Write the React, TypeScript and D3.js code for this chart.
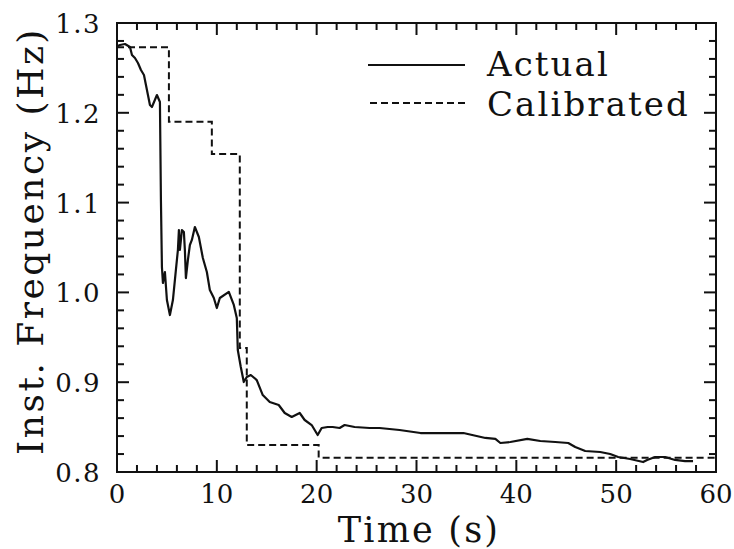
import React from "react";
import * as d3 from "d3";

const actualTime = [0, 0.3, 0.8, 1.3, 1.5, 1.8, 2.1, 2.4, 2.7, 2.9, 3.1, 3.3, 3.5, 4.0, 4.3, 4.4, 4.5, 4.6, 4.8, 5.0, 5.3, 5.6, 5.9, 6.1, 6.2, 6.3, 6.4, 6.5, 6.7, 6.8, 6.9, 7.1, 7.3, 7.5, 7.8, 8.2, 8.6, 9.0, 9.3, 9.7, 10.0, 10.3, 11.2, 11.7, 12.0, 12.1, 12.4, 12.7, 13.0, 13.4, 14.0, 14.6, 15.3, 16.2, 16.8, 17.5, 18.3, 18.8, 19.5, 20.1, 20.5, 21.1, 21.6, 22.3, 22.8, 23.8, 25.3, 26.3, 28.3, 30.4, 33.4, 34.7, 36.9, 37.9, 38.4, 39.4, 41.1, 42.4, 43.9, 45.2, 45.9, 46.9, 48.4, 49.4, 50.2, 51.4, 52.7, 53.1, 53.9, 54.9, 55.9, 56.9, 57.7];
const actualFreq = [1.274, 1.2755, 1.2766, 1.2733, 1.2644, 1.261, 1.2555, 1.2477, 1.2421, 1.231, 1.2198, 1.2087, 1.2065, 1.2198, 1.212, 1.103, 1.0283, 1.0105, 1.0227, 0.9915, 0.9748, 0.9915, 1.025, 1.0472, 1.0695, 1.0472, 1.0583, 1.0695, 1.0673, 1.047, 1.016, 1.036, 1.0528, 1.0584, 1.0728, 1.0617, 1.0383, 1.0227, 1.0027, 0.9938, 0.9826, 0.9938, 1.0005, 0.986, 0.9715, 0.9359, 0.9169, 0.9002, 0.9058, 0.908, 0.9024, 0.8857, 0.878, 0.8746, 0.8657, 0.8613, 0.8657, 0.8579, 0.8523, 0.8412, 0.849, 0.8501, 0.8501, 0.849, 0.8523, 0.8501, 0.849, 0.849, 0.8468, 0.8434, 0.8434, 0.8434, 0.8379, 0.8368, 0.8323, 0.8334, 0.8368, 0.8345, 0.8334, 0.8323, 0.8278, 0.8234, 0.8223, 0.82, 0.8167, 0.8145, 0.8111, 0.8134, 0.8167, 0.8167, 0.8134, 0.8122, 0.8122];

const calTime = [0, 5.2, 5.2, 9.5, 9.5, 12.3, 12.3, 13.0, 13.0, 20.2, 20.2, 60];
const calFreq = [1.273, 1.273, 1.19, 1.19, 1.154, 1.154, 0.938, 0.938, 0.83, 0.83, 0.816, 0.816];

const xTickLabels = [0, 10, 20, 30, 40, 50, 60];
const yTickLabels = [0.8, 0.9, 1.0, 1.1, 1.2, 1.3];
const xMinor = d3.range(0, 60.001, 2);
const yMinor = d3.range(0.8, 1.3001, 0.02);

const seriesNames = ["Actual", "Calibrated"];

export default function App() {
  const W = 734, H = 549;
  const x = d3.scaleLinear().domain([0, 60]).range([117, 716]);
  const y = d3.scaleLinear().domain([0.8, 1.3]).range([472, 23]);
  const line = d3.line<[number, number]>().x(d => x(d[0])).y(d => y(d[1]));
  const actual = actualTime.map((t, i) => [t, actualFreq[i]] as [number, number]);
  const cal = calTime.map((t, i) => [t, calFreq[i]] as [number, number]);
  const font = "'DejaVu Serif', 'Liberation Serif', serif";
  const minorLen = 7, majorLen = 12;
  const isMajorX = (v: number) => Math.abs(v % 10) < 1e-6 || Math.abs((v % 10) - 10) < 1e-6;
  const isMajorY = (v: number) => Math.abs(Math.round(v * 10) - v * 10) < 1e-6;
  return (
    <svg width={W} height={H} style={{ position: "absolute", left: 0, top: 0, background: "#fff" }}>
      <g stroke="#111" strokeWidth={2} fill="none">
        <rect x={x(0)} y={y(1.3)} width={x(60) - x(0)} height={y(0.8) - y(1.3)} />
        {xMinor.map((v, i) => {
          const L = isMajorX(v) ? majorLen : minorLen;
          return (
            <g key={"xt" + i}>
              <line x1={x(v)} x2={x(v)} y1={y(0.8)} y2={y(0.8) - L} />
              <line x1={x(v)} x2={x(v)} y1={y(1.3)} y2={y(1.3) + L} />
            </g>
          );
        })}
        {yMinor.map((v, i) => {
          const L = isMajorY(v) ? majorLen : minorLen;
          return (
            <g key={"yt" + i}>
              <line x1={x(0)} x2={x(0) + L} y1={y(v)} y2={y(v)} />
              <line x1={x(60)} x2={x(60) - L} y1={y(v)} y2={y(v)} />
            </g>
          );
        })}
      </g>
      <path d={line(cal) || ""} fill="none" stroke="#111" strokeWidth={2} strokeDasharray="7,4" />
      <path d={line(actual) || ""} fill="none" stroke="#111" strokeWidth={2.2} strokeLinejoin="round" />
      <g fontFamily={font} fontSize={26} fill="#111">
        {xTickLabels.map(v => (
          <text key={"xl" + v} x={x(v)} y={503} textAnchor="middle">{v}</text>
        ))}
        {yTickLabels.map(v => (
          <text key={"yl" + v} x={101} y={y(v) + 10} textAnchor="end" letterSpacing={1.5}>{v.toFixed(1)}</text>
        ))}
      </g>
      <text x={419} y={542} textAnchor="middle" fontFamily={font} fontSize={35} letterSpacing={2.2} fill="#111">Time (s)</text>
      <text transform="translate(43,241) rotate(-90)" textAnchor="middle" fontFamily={font} fontSize={36} letterSpacing={2.5} fill="#111">Inst. Frequency (Hz)</text>
      <g>
        <line x1={368} x2={465} y1={65} y2={65} stroke="#111" strokeWidth={2} />
        <line x1={370} x2={467} y1={103} y2={103} stroke="#111" strokeWidth={2} strokeDasharray="7,4" />
        <text x={487} y={76} fontFamily={font} fontSize={34} letterSpacing={2.1} fill="#111">{seriesNames[0]}</text>
        <text x={487} y={116} fontFamily={font} fontSize={34} letterSpacing={2.1} fill="#111">{seriesNames[1]}</text>
      </g>
    </svg>
  );
}
